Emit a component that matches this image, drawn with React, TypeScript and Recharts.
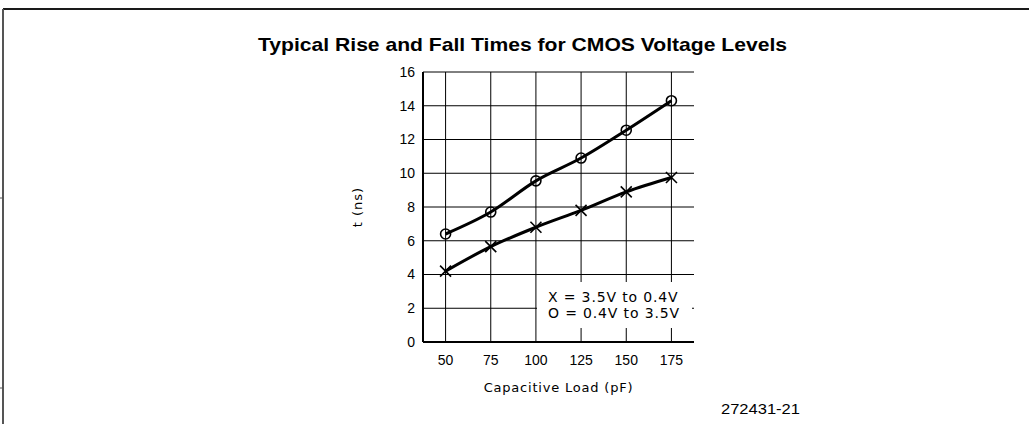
import { LineChart, Line, XAxis, YAxis, CartesianGrid, Legend } from 'recharts';

const loads = [50, 75, 100, 125, 150, 175];
// O = 0.4V to 3.5V (rise)
const riseNs = [6.4, 7.7, 9.55, 10.9, 12.55, 14.3];
// X = 3.5V to 0.4V (fall)
const fallNs = [4.2, 5.65, 6.8, 7.8, 8.9, 9.75];
const xTicks = [50, 75, 100, 125, 150, 175];
const yTicks = [0, 2, 4, 6, 8, 10, 12, 14, 16];
const legendLines = ['X = 3.5V to 0.4V', 'O = 0.4V to 3.5V'];

const data = loads.map((load, i) => ({ load, rise: riseNs[i], fall: fallNs[i] }));

const CircleDot = (props: any) => {
  const { cx, cy, index } = props;
  return <circle key={`o-${index}`} cx={cx} cy={cy} r={5} fill="none" stroke="#000" strokeWidth={1.6} />;
};

const CrossDot = (props: any) => {
  const { cx, cy, index } = props;
  const s = 5.5;
  return (
    <g key={`x-${index}`} stroke="#000" strokeWidth={1.6}>
      <line x1={cx - s} y1={cy - s} x2={cx + s} y2={cy + s} />
      <line x1={cx - s} y1={cy + s} x2={cx + s} y2={cy - s} />
    </g>
  );
};

const KeyBox = () => (
  <div
    style={{
      background: '#fff',
      width: '100%',
      height: '100%',
      boxSizing: 'border-box',
      paddingTop: 7,
      paddingLeft: 11,
      fontFamily: '"DejaVu Sans", sans-serif',
      fontSize: 14,
      lineHeight: '16px',
      letterSpacing: 0.85,
      color: '#000',
      whiteSpace: 'pre',
    }}
  >
    {legendLines.map((l) => (
      <div key={l}>{l}</div>
    ))}
  </div>
);

export default function App() {
  return (
    <div style={{ position: 'absolute', left: 0, top: 0, width: 1029, height: 424, background: '#fff' }}>
      <svg width={1029} height={424} style={{ position: 'absolute', left: 0, top: 0 }}>
        <line x1={3} y1={9} x2={1029} y2={9} stroke="#1a1a1a" strokeWidth={2} />
        <line x1={3} y1={9} x2={3} y2={424} stroke="#555" strokeWidth={2} />
        <line x1={0} y1={198} x2={3} y2={198} stroke="#555" strokeWidth={1} />
        <line x1={0} y1={388} x2={3} y2={388} stroke="#555" strokeWidth={1} />
        <text
          x={522.5}
          y={51}
          textAnchor="middle"
          fontFamily='"Liberation Sans", Arial, sans-serif'
          fontWeight="bold"
          fontSize={19}
          textLength={529}
          lengthAdjust="spacingAndGlyphs"
        >
          Typical Rise and Fall Times for CMOS Voltage Levels
        </text>
        <text
          x={721}
          y={414}
          fontFamily='"Liberation Sans", Arial, sans-serif'
          fontSize={14}
          textLength={79}
          lengthAdjust="spacingAndGlyphs"
        >
          272431-21
        </text>
      </svg>
      <div style={{ position: 'absolute', left: 0, top: 0 }}>
        <LineChart width={1029} height={424} data={data} margin={{ top: 72, right: 335, bottom: 52, left: 333 }}>
          <CartesianGrid stroke="#000" strokeWidth={1} horizontalValues={yTicks} verticalValues={xTicks} />
          <XAxis
            dataKey="load"
            type="number"
            domain={[37.5, 187.5]}
            ticks={xTicks}
            allowDataOverflow
            height={30}
            tickLine={false}
            tickSize={0}
            tickMargin={13}
            axisLine={{ stroke: '#000', strokeWidth: 2 }}
            tick={{ fill: '#000', fontSize: 14, fontFamily: '"Liberation Sans", Arial, sans-serif' }}
            label={{
              content: ({ viewBox }: any) => (
                <text
                  x={viewBox.x + viewBox.width / 2}
                  y={viewBox.y + 45}
                  textAnchor="middle"
                  dominantBaseline="central"
                  fontFamily='"DejaVu Sans", sans-serif'
                  fontSize={13}
                  letterSpacing={0.8}
                  fill="#000"
                >
                  Capacitive Load (pF)
                </text>
              ),
            }}
          />
          <XAxis xAxisId="top" orientation="top" dataKey="load" type="number" domain={[37.5, 187.5]} height={0} tick={false} tickLine={false} axisLine={{ stroke: '#000', strokeWidth: 2 }} />
          <YAxis
            type="number"
            domain={[0, 16]}
            ticks={yTicks}
            width={90}
            tickLine={false}
            tickSize={0}
            tickMargin={8}
            axisLine={{ stroke: '#000', strokeWidth: 2 }}
            tick={{ fill: '#000', fontSize: 14, fontFamily: '"Liberation Sans", Arial, sans-serif' }}
            label={{
              content: ({ viewBox }: any) => {
                const x = viewBox.x + 24;
                const y = viewBox.y + viewBox.height / 2;
                return (
                  <text
                    x={x}
                    y={y}
                    transform={`rotate(-90 ${x} ${y})`}
                    textAnchor="middle"
                    dominantBaseline="central"
                    fontFamily='"DejaVu Sans", sans-serif'
                    fontSize={13}
                    letterSpacing={1}
                    fill="#000"
                  >
                    t (ns)
                  </text>
                );
              },
            }}
          />
          <YAxis yAxisId="right" orientation="right" type="number" domain={[0, 16]} width={0} tick={false} tickLine={false} axisLine={{ stroke: '#000', strokeWidth: 2 }} />
          <Line dataKey="rise" type="monotone" stroke="#000" strokeWidth={3} dot={CircleDot} activeDot={false} isAnimationActive={false} />
          <Line dataKey="fall" type="monotone" stroke="#000" strokeWidth={3} dot={CrossDot} activeDot={false} isAnimationActive={false} />
          <Legend
            layout="horizontal"
            verticalAlign="middle"
            align="center"
            content={() => <KeyBox />}
            wrapperStyle={{ left: 537, top: 282, width: 155, height: 46, right: 'auto', bottom: 'auto' }}
          />
        </LineChart>
      </div>
    </div>
  );
}
